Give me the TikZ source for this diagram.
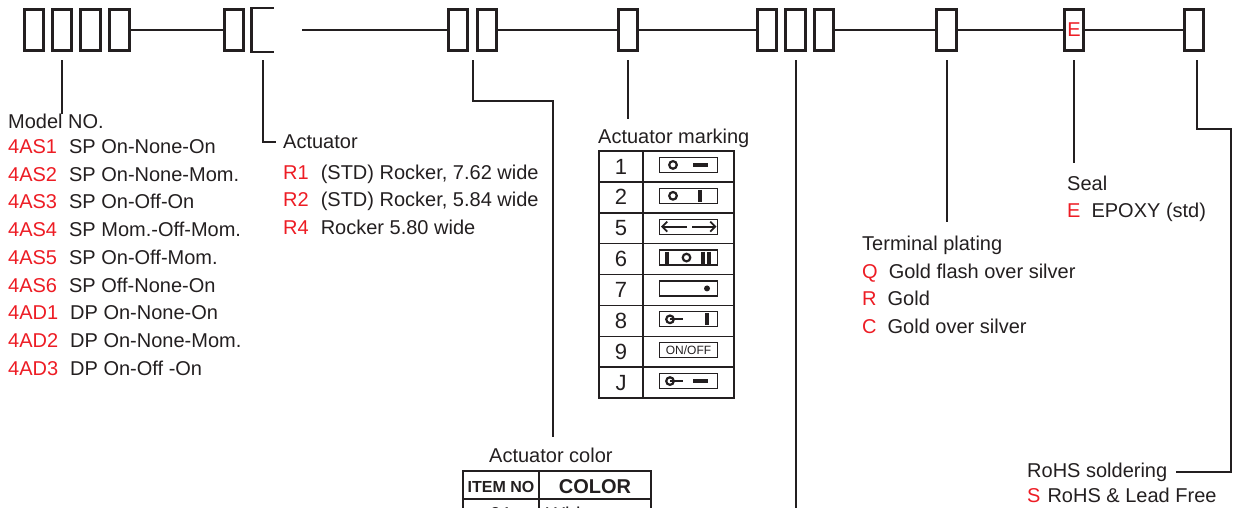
\documentclass[tikz,border=0pt]{standalone}
\usepackage{fontspec}
\setmainfont{Liberation Sans}
\usetikzlibrary{calc}
\usetikzlibrary{arrows.meta}
\usetikzlibrary{positioning}
\definecolor{ink}{RGB}{35, 31, 32}
\definecolor{codered}{RGB}{237, 28, 36}
\newcommand{\redcode}[1]{\textcolor{codered}{#1}}

\begin{document}
\begin{tikzpicture}[x=1pt, y=-1pt,
    digit/.style={draw=ink, line width=2.7pt, minimum width=19.5pt, minimum height=41.5pt, inner sep=0pt},
    wire/.style={draw=ink, line width=2.7pt},
    lead/.style={draw=ink, line width=2pt},
    grid/.style={draw=ink, line width=1.8pt},
    txt/.style={anchor=base west, inner sep=0pt, text=ink, font=\fontsize{20}{24}\selectfont},
    num/.style={inner sep=0pt, text=ink, font=\fontsize{22}{26}\selectfont},
    markbox/.style={draw=ink, line width=1.3pt, minimum width=58pt, minimum height=15pt, inner sep=0pt},
    sym/.style={draw=ink, line width=2.2pt},
    bar/.style={draw=ink, line width=4pt},
    barb/.style={draw=ink, line width=1.8pt, -{Straight Barb[length=5pt, width=10pt]}}]
    \clip (0,0) rectangle (1237,508);

    % Code boxes
    \foreach \name/\xpos in {b1/34, b2/62, b3/90.5, b4/119.5, b5/234, b7/458, b8/487,
                             b9/628, b10/767, b11/795.5, b12/824, b13/946.5, b15/1194}
        \node[digit] (\name) at (\xpos,30) {};
    \node[digit, draw=none] (b6) at (262.5,30) {};
    \draw[wire] (b6.north east) -- (b6.north west) -- (b6.south west) -- (b6.south east);
    \node[digit, text=codered, font=\fontsize{20}{24}\selectfont] (b14) at (1074,30) {E};

    % Wires between boxes
    \coordinate (gapstart) at (302,30);
    \draw[wire] (b4.east) -- (b5.west);
    \draw[wire] (gapstart) -- (b7.west);
    \draw[wire] (b8.east) -- (b9.west);
    \draw[wire] (b9.east) -- (b10.west);
    \draw[wire] (b12.east) -- (b13.west);
    \draw[wire] (b13.east) -- (b14.west);
    \draw[wire] (b14.east) -- (b15.west);

    % Model NO.
    \node[txt] (model) at (8,129) {Model NO.};
    \foreach \mcode/\mdesc [count=\i] in {4AS1/SP On-None-On, 4AS2/SP On-None-Mom., 4AS3/SP On-Off-On,
                                          4AS4/SP Mom.-Off-Mom., 4AS5/SP On-Off-Mom., 4AS6/SP Off-None-On,
                                          4AD1/DP On-None-On, 4AD2/DP On-None-Mom., 4AD3/DP On-Off -On}
        \node[txt] (model\i) at (8,{125.8+27.7*\i}) {\redcode{\mcode}\hspace{12pt}\mdesc};
    \draw[lead] ([yshift=-8pt]b2.south) -- (b2 |- model.north);

    % Actuator
    \node[txt] (actuator) at (283,149) {Actuator};
    \foreach \acode/\adesc [count=\i] in {R1/{(STD) Rocker, 7.62 wide}, R2/{(STD) Rocker, 5.84 wide}, R4/{Rocker 5.80 wide}}
        \node[txt] (act\i) at (283,{151.6+27.5*\i}) {\redcode{\acode}\hspace{12pt}\adesc};
    \draw[lead] ([yshift=-8pt]b6.south) |- ([xshift=-7pt]actuator.west);

    % Actuator marking
    \node[txt] (marktitle) at (598,143) {Actuator marking};
    \coordinate (markend) at ([yshift=9.4pt]marktitle.north);
    \draw[lead] ([yshift=-8pt]b9.south) -- (b9 |- markend);
    \draw[grid] (599,151) rectangle (734,398);
    \draw[grid] (643,151) -- (643,398);
    \foreach \i in {1,...,7}
        \draw[grid, line width=1.5pt] (599,{151+30.875*\i}) -- (734,{151+30.875*\i});
    \foreach \n [count=\i] in {1,2,5,6,7,8,9,J} {
        \node[num] (row\i) at (621,{151+30.875*(\i-0.5)}) {\n};
        \node[markbox] (mk\i) at (688.5,{151+30.875*(\i-0.5)-1.5}) {};
    }
    \begin{scope}[shift={(mk1.center)}]
        \draw[sym] (-15.5,0) circle (3.8pt);
        \draw[bar] (4.5,0) -- (19.5,0);
    \end{scope}
    \begin{scope}[shift={(mk2.center)}]
        \draw[sym] (-15.5,0) circle (3.8pt);
        \draw[bar] (11.5,-6) -- (11.5,6);
    \end{scope}
    \begin{scope}[shift={(mk3.center)}]
        \draw[barb] (-1.5,0) -- (-27.5,0);
        \draw[barb] (3.5,0) -- (28,0);
    \end{scope}
    \begin{scope}[shift={(mk4.center)}]
        \draw[bar] (-22,-6) -- (-22,6);
        \draw[sym] (-2,0) circle (3.8pt);
        \draw[bar] (14.5,-6) -- (14.5,6);
        \draw[bar] (20.5,-6) -- (20.5,6);
    \end{scope}
    \begin{scope}[shift={(mk5.center)}]
        \fill[ink] (18.5,0) circle (3pt);
    \end{scope}
    \begin{scope}[shift={(mk6.center)}]
        \draw[sym] (-18.5,0) circle (3.8pt);
        \draw[sym] (-18.5,0) -- (-6,0);
        \draw[bar] (18.5,-6) -- (18.5,6);
    \end{scope}
    \node[inner sep=0pt, text=ink, font=\fontsize{12}{14}\selectfont] (onoff) at (mk7.center) {ON/OFF};
    \begin{scope}[shift={(mk8.center)}]
        \draw[sym] (-18.5,0) circle (3.8pt);
        \draw[sym] (-18.5,0) -- (-6,0);
        \draw[bar] (4.5,0) -- (19.5,0);
    \end{scope}

    % Actuator color
    \node[txt] (colortitle) at (489,462) {Actuator color};
    \coordinate (colorbend) at (553,101);
    \coordinate (colorend) at ([yshift=10.4pt]colortitle.north);
    \draw[lead] ($(b7.south)!.5!(b8.south)+(0,8)$) |- (colorbend) -- (colorbend |- colorend);
    \draw[grid] (463,471) rectangle (651,560);
    \draw[grid] (463,499) -- (651,499);
    \draw[grid] (539,471) -- (539,560);
    \node[inner sep=0pt, anchor=base, text=ink, font=\bfseries\fontsize{16}{18}\selectfont] (itemhd) at (501,492) {ITEM NO};
    \node[inner sep=0pt, anchor=base, text=ink, font=\bfseries\fontsize{20}{24}\selectfont] (colorhd) at (595,493) {COLOR};
    \node[txt, anchor=base] (item1) at (501,521) {01};
    \node[txt] (white1) at (546,521) {White};

    % Leader running off the page
    \coordinate (offpage) at (795.5,520);
    \draw[lead] ([yshift=-8pt]b11.south) -- (offpage);

    % Terminal plating
    \node[txt] (terminal) at (862,250) {Terminal plating};
    \foreach \tcode/\tdesc [count=\i] in {Q/Gold flash over silver, R/Gold, C/Gold over silver}
        \node[txt] (term\i) at (862,{250.3+27.7*\i}) {\redcode{\tcode}\hspace{11pt}\tdesc};
    \coordinate (termend) at ([yshift=13.4pt]terminal.north);
    \draw[lead] ([yshift=-8pt]b13.south) -- (b13 |- termend);

    % Seal
    \node[txt] (seal) at (1067,190) {Seal};
    \node[txt] (seal1) at (1067,217) {\redcode{E}\hspace{11pt}EPOXY (std)};
    \coordinate (sealend) at ([yshift=12.4pt]seal.north);
    \draw[lead] ([yshift=-8pt]b14.south) -- (b14 |- sealend);

    % RoHS soldering
    \node[txt] (rohs) at (1027,477) {RoHS soldering};
    \node[txt] (rohs1) at (1027,502) {\redcode{S}\hspace{7pt}RoHS \& Lead Free};
    \coordinate (rohsbend) at (1231,129);
    \draw[lead] ([xshift=3pt,yshift=-8pt]b15.south) |- (rohsbend) |- ([xshift=9pt]rohs.east);
\end{tikzpicture}
\end{document}
